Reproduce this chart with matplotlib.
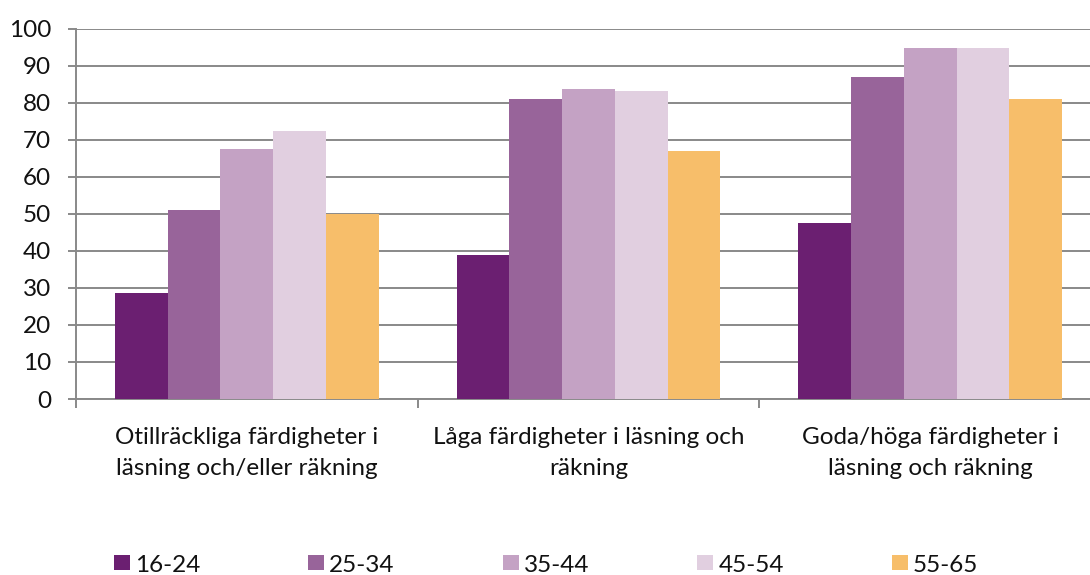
import matplotlib
matplotlib.use("Agg")
import matplotlib.pyplot as plt
import numpy as np

plt.rcParams['font.family'] = ['Lato', 'DejaVu Sans']

categories = ["Otillräckliga färdigheter i\nläsning och/eller räkning",
              "Låga färdigheter i läsning och\nräkning",
              "Goda/höga färdigheter i\nläsning och räkning"]
series_names = ["16-24", "25-34", "35-44", "45-54", "55-65"]
values_16_24 = [28.7, 38.8, 47.5]
values_25_34 = [51.0, 81.0, 87.0]
values_35_44 = [67.5, 83.8, 94.8]
values_45_54 = [72.3, 83.2, 94.8]
values_55_65 = [50.0, 67.0, 81.0]
yticks = [0, 10, 20, 30, 40, 50, 60, 70, 80, 90, 100]

series_values = [values_16_24, values_25_34, values_35_44, values_45_54, values_55_65]
colors = ["#6B1F71", "#98649A", "#C4A2C4", "#E1CFE0", "#F7BE6A"]
FS = 17.5

fig = plt.figure(figsize=(10.9, 5.75), dpi=100)
ax = fig.add_axes([76/1090, 1-399/575, (1101-76)/1090, (399-28.7)/575])

x = np.arange(len(categories))
group_w = 0.772
bw = group_w / len(series_names)
for i, (name, vals, c) in enumerate(zip(series_names, series_values, colors)):
    ax.bar(x - group_w/2 + bw*(i+0.5), vals, width=bw, color=c, label=name,
           edgecolor='none', zorder=3)

ax.set_xlim(-0.5, len(categories)-0.5)
ax.set_ylim(0, 100)
ax.set_yticks(yticks)
ax.set_yticklabels([str(t) for t in yticks], fontsize=FS)
grid_color = '#898989'
ax.yaxis.grid(True, color=grid_color, linewidth=1.4, zorder=0)
ax.set_axisbelow(True)

for s in ['top', 'right']:
    ax.spines[s].set_visible(False)
ax.spines['left'].set_color(grid_color)
ax.spines['left'].set_linewidth(1.4)
ax.spines['bottom'].set_color(grid_color)
ax.spines['bottom'].set_linewidth(1.4)
ax.spines['left'].set_bounds(0, 100)

ax.tick_params(axis='y', length=6, width=1.4, color=grid_color, pad=12, labelcolor='#111111')
ax.set_xticks(np.arange(-0.5, len(categories)), minor=False)
ax.set_xticklabels([])
ax.tick_params(axis='x', which='major', length=6.5, width=1.4, color=grid_color)
ax.set_xticks(x, minor=True)
ax.set_xticklabels(categories, minor=True, fontsize=FS, linespacing=1.6)
ax.tick_params(axis='x', which='minor', length=0, pad=20, labelcolor='#111111')

leg = fig.legend(loc='center', bbox_to_anchor=(0.501, 1-565/575), ncol=5, frameon=False,
                 fontsize=FS, handlelength=0.66, handleheight=0.58, handletextpad=0.2,
                 columnspacing=4.45, borderaxespad=0)
for t in leg.get_texts():
    t.set_color('#111111')

fig.savefig("out.png", dpi=100)
